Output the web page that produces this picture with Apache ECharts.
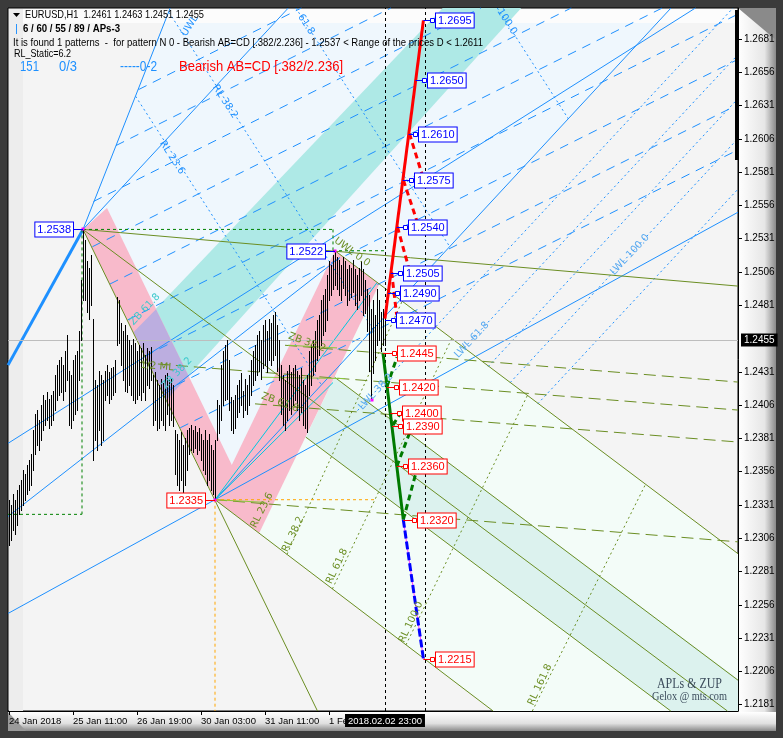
<!DOCTYPE html>
<html><head><meta charset="utf-8">
<script src="https://cdn.jsdelivr.net/npm/echarts@6/dist/echarts.min.js"></script>
<style>html,body{margin:0;padding:0;background:#3b3b3b;}#c{width:783px;height:738px;}</style>
</head><body><div id="c"></div>
<script>
// ---------- DATA ----------
const barHigh = [
1.2335,1.2331,1.2339,1.2335,1.2342,1.2346,1.2350,1.2357,1.2354,1.2361,
1.2365,1.2369,1.2387,1.2399,1.2402,1.2395,1.2406,1.2414,1.2410,1.2416,
1.2411,1.2414,1.2417,1.2429,1.2436,1.2440,1.2442,1.2436,1.2447,1.2459,
1.2432,1.2429,1.2440,1.2444,1.2447,1.2462,1.2500,1.2538,1.2530,1.2514,
1.2509,1.2519,1.2471,1.2425,1.2421,1.2432,1.2429,1.2425,1.2432,1.2436,
1.2431,1.2434,1.2435,1.2440,1.2487,1.2485,1.2468,1.2462,1.2466,1.2459,
1.2455,1.2451,1.2456,1.2453,1.2447,1.2451,1.2449,1.2453,1.2444,1.2449,
1.2447,1.2450,1.2429,1.2431,1.2425,1.2421,1.2426,1.2423,1.2429,1.2430,
1.2425,1.2426,1.2421,1.2387,1.2384,1.2380,1.2386,1.2376,1.2381,1.2387,
1.2389,1.2391,1.2387,1.2390,1.2386,1.2389,1.2384,1.2380,1.2387,1.2380,
1.2384,1.2376,1.2372,1.2380,1.2410,1.2406,1.2436,1.2447,1.2451,1.2455,
1.2440,1.2412,1.2410,1.2414,1.2421,1.2425,1.2430,1.2417,1.2426,1.2421,
1.2429,1.2440,1.2447,1.2451,1.2459,1.2462,1.2455,1.2466,1.2470,1.2462,
1.2471,1.2468,1.2474,1.2476,1.2466,1.2455,1.2436,1.2429,1.2425,1.2432,
1.2436,1.2431,1.2434,1.2436,1.2432,1.2429,1.2434,1.2425,1.2421,1.2429,
1.2447,1.2451,1.2455,1.2462,1.2470,1.2474,1.2485,1.2489,1.2493,1.2504,
1.2514,1.2511,1.2519,1.2522,1.2517,1.2515,1.2511,1.2517,1.2514,1.2508,
1.2511,1.2509,1.2515,1.2508,1.2504,1.2509,1.2514,1.2508,1.2500,1.2493,
1.2489,1.2478,1.2485,1.2474,1.2493,1.2485,1.2476,1.2478,1.2471];
const barLow = [
1.2301,1.2305,1.2312,1.2309,1.2316,1.2324,1.2327,1.2331,1.2335,1.2339,
1.2342,1.2346,1.2357,1.2369,1.2376,1.2372,1.2380,1.2387,1.2391,1.2395,
1.2389,1.2391,1.2395,1.2402,1.2410,1.2414,1.2416,1.2410,1.2417,1.2425,
1.2391,1.2389,1.2395,1.2399,1.2402,1.2425,1.2455,1.2485,1.2485,1.2476,
1.2471,1.2481,1.2365,1.2380,1.2372,1.2387,1.2376,1.2380,1.2410,1.2414,
1.2408,1.2411,1.2414,1.2416,1.2451,1.2453,1.2436,1.2425,1.2417,1.2416,
1.2421,1.2414,1.2410,1.2408,1.2411,1.2414,1.2410,1.2416,1.2410,1.2421,
1.2419,1.2425,1.2391,1.2395,1.2387,1.2389,1.2395,1.2391,1.2387,1.2399,
1.2391,1.2395,1.2390,1.2354,1.2346,1.2342,1.2350,1.2339,1.2346,1.2357,
1.2369,1.2372,1.2371,1.2374,1.2369,1.2372,1.2365,1.2357,1.2354,1.2346,
1.2350,1.2342,1.2339,1.2335,1.2380,1.2385,1.2395,1.2406,1.2410,1.2411,
1.2402,1.2387,1.2385,1.2389,1.2397,1.2401,1.2406,1.2397,1.2402,1.2399,
1.2406,1.2414,1.2421,1.2425,1.2429,1.2432,1.2426,1.2434,1.2436,1.2431,
1.2440,1.2436,1.2440,1.2444,1.2432,1.2425,1.2399,1.2391,1.2387,1.2395,
1.2402,1.2399,1.2406,1.2410,1.2402,1.2395,1.2401,1.2391,1.2389,1.2386,
1.2414,1.2421,1.2429,1.2432,1.2440,1.2444,1.2451,1.2459,1.2462,1.2470,
1.2485,1.2489,1.2493,1.2496,1.2493,1.2489,1.2485,1.2494,1.2489,1.2481,
1.2485,1.2487,1.2491,1.2481,1.2478,1.2485,1.2489,1.2474,1.2475,1.2462,
1.2432,1.2410,1.2430,1.2440,1.2451,1.2455,1.2447,1.2451,1.2451];

const xTickIdx = [0, 32, 64, 96, 128, 160];
const xTickText = ['24 Jan 2018', '25 Jan 11:00', '26 Jan 19:00', '30 Jan 03:00', '31 Jan 11:00', '1 Feb 19:00'];
const yTicks = [1.2181,1.2206,1.2231,1.2256,1.2281,1.2306,1.2331,1.2356,1.2381,1.2406,1.2431,1.2481,1.2506,1.2531,1.2556,1.2581,1.2606,1.2631,1.2656,1.2681];
const lastPrice = 1.2455;
const lastBarIdx = 188, futureLineIdx = 208;
const lastBarTime = '2018.02.02 23:00';

// fills (bar index, price)
const polyLightBlue = [[37,1.2538],[77.5,1.2693],[323.85,1.2693],[103,1.2335]];
const polyMint = [[185.15,1.2497],[125.1,1.2310],[445.5,1.1944],[445.5,1.2203]];
const polyTeal = [[162.8,1.2427],[148.4,1.2382],[445.5,1.2047],[445.5,1.2109]];
const polyCyan = [[62.35,1.2461],[230,1.2725],[268.6,1.2725],[78.85,1.2410]];
const polyPurple = [[62.35,1.2461],[73.5,1.2478],[89.8,1.2428],[78.85,1.2410]];
const polyPinkAB = [[37,1.2538],[49,1.2554],[115,1.2350],[103,1.2335]];
const polyPinkBC = [[103,1.2335],[163,1.2522],[185.15,1.2497],[125.1,1.2310]];

// lines [idx1, price1, idx2, price2]
const linesBlueThick = [[-14.5,1.2398,37,1.2538]];
const linesBlue = [[37,1.2538,85.5,1.2723],[37,1.2538,155.5,1.2730],[103,1.2335,355.5,1.2744],
  [-14.5,1.2238,375.5,1.2560],[-14.5,1.2364,355.5,1.2716],[-14.5,1.2306,165.5,1.2517]];
const linesBlueDashed = [[85.6,1.2389,375.5,1.2606],[76.85,1.2416,375.5,1.2640],[68.05,1.2443,375.5,1.2674],
  [59.25,1.2470,375.5,1.2708],[50.5,1.2497,375.5,1.2741],[41.7,1.2525,375.5,1.2775],
  [42.25,1.2559,375.5,1.2809],[53.5,1.2601,375.5,1.2843],[64.75,1.2643,375.5,1.2877]];
const linesBlueDotted = [[63.3,1.2638,156.3,1.2421],[80,1.2701,182,1.2463],[104.9,1.2794,220.4,1.2525],
  [225.5,1.2748,279.7,1.2621],[174.3,1.2402,375.5,1.2726],[227.55,1.2449,375.5,1.2687],
  [239.6,1.2435,375.5,1.2654],[250.6,1.2423,375.5,1.2624],[264.35,1.2407,375.5,1.2586]];
const linesCyan = [[103,1.2335,184,1.2498],[103,1.2335,162,1.2423]];
const linesOlive = [[37,1.2538,375.5,1.2494],[37,1.2538,160.5,1.2157],[37,1.2538,375.5,1.2158],
  [163,1.2522,375.5,1.2282],[103,1.2335,375.5,1.2024],[162.8,1.2427,375.5,1.2187],[148.4,1.2382,375.5,1.2126]];
const linesOliveDashed = [[138,1.2451,375.5,1.2422],[65.5,1.2438,375.5,1.2401],[123,1.2407,375.5,1.2377],[103,1.2335,375.5,1.2302]];
const linesOliveDotted = [[139,1.2294,196.55,1.2484],[161.7,1.2268,221.35,1.2456],[198.5,1.2226,259.1,1.2413],[256.25,1.2160,318.4,1.2347]];
const linesYellowGreen = [[103,1.2335,128,1.2333],[139.5,1.2451,164,1.2449],[126.5,1.2427,168,1.2426]];
const linesGreenBox = [[37,1.2538,162,1.2538],[162,1.2538,162,1.2522],[162,1.2522,188,1.2522],[36.5,1.2538,36.5,1.2324],[-0.5,1.2324,36.5,1.2324]];
const linesOrange = [[103,1.2335,103,1.2150],[103,1.2335,184,1.2335]];
const projRedSolid = [[188,1.2471,207.2,1.2695]];
const projRedDashed = [[200.2,1.2610,206.4,1.2580],[197.2,1.2575,203.8,1.2545],[194.2,1.2540,199.7,1.2510],[191.3,1.2506,193.8,1.2474]];
const projGreenSolid = [[187,1.2445,197.15,1.2320]];
const projGreenDashed = [[197.15,1.2320,204.7,1.2362],[193.9,1.2360,200.5,1.2386],[192,1.2391,196.5,1.2402],[189,1.2420,194,1.2442]];
const projBlue = [[197.15,1.2320,207.25,1.2215]];

// price tags [line idx, box idx, price]
const tagsBlue = [[207.2,213,1.2695],[203.3,209,1.2650],[199.8,204.5,1.2610],[196.85,202.5,1.2575],[193.85,199.5,1.2540],[190.85,197,1.2505],[189.55,195.5,1.2490],[188,193.5,1.2470]];
const tagsRed = [[187,194,1.2445],[189,195,1.2420],[190.7,196.5,1.2400],[191.5,197,1.2390],[193.9,199.5,1.2360],[197.15,204,1.2320],[207.25,213,1.2215]];
const tagsLeftBlue = [[37,32,1.2538],[163,158,1.2522]];
const tagsLeftRed = [[103,98,1.2335]];
const pivots = [[37,1.2538],[103,1.2335],[163,1.2522],[181.5,1.2410]];

// chart text labels
const chartTexts = ['UWL 0.0','1/2 ML','RL 38.2','RL 61.8','RL 100.0','RL 161.8','RL 23.6','RL 38.2','61.8','100.0','LWL 38.2','LWL 61.8','LWL 100.0','ZB 61.8','ZB 38.2','ZB 38.2','ZB 61.8','RL 23.6','UWL'];
const chartTextPos = [[171.5,1.2521],[74,1.2435],[142,1.2309],[164,1.2285],[201,1.2243],[265.5,1.2196],[81.5,1.2592],[108,1.2634],[148.5,1.2692],[249,1.2694],[183.5,1.2416],[231.5,1.2455],[310.5,1.2519],[68,1.2478],[84,1.2430],[149,1.2453],[135.5,1.2408],[126.5,1.2327],[90.5,1.2691]];

// ---------- STYLE ----------
const OLIVE = '#6b8e23', DBLUE = '#1e90ff';
const textRot = [-0.64,-0.08,1.13,1.13,1.13,1.13,-1.0,-1.0,-1.0,-1.0,0.82,0.82,0.82,0.82,0.82,-0.35,-0.35,1.1,1.0];
const textCol = [OLIVE,OLIVE,OLIVE,OLIVE,OLIVE,OLIVE,DBLUE,DBLUE,DBLUE,DBLUE,'#5aaaf0','#5aaaf0','#5aaaf0','#3cc8cc','#3cc8cc',OLIVE,OLIVE,OLIVE,DBLUE];

function clipSeg(a, b, r) {
  let t0 = 0, t1 = 1; const dx = b[0]-a[0], dy = b[1]-a[1];
  const p = [-dx, dx, -dy, dy], q = [a[0]-r.x, r.x+r.width-a[0], a[1]-r.y, r.y+r.height-a[1]];
  for (let i = 0; i < 4; i++) {
    if (p[i] === 0) { if (q[i] < 0) return null; }
    else { const t = q[i]/p[i];
      if (p[i] < 0) { if (t > t1) return null; if (t > t0) t0 = t; }
      else { if (t < t0) return null; if (t < t1) t1 = t; } }
  }
  return [[a[0]+t0*dx, a[1]+t0*dy], [a[0]+t1*dx, a[1]+t1*dy]];
}
function clipPoly(pts, r) {
  const x0=r.x, x1=r.x+r.width, y0=r.y, y1=r.y+r.height;
  const planes = [
    [p=>p[0]>=x0, (a,b)=>[x0, a[1]+(b[1]-a[1])*(x0-a[0])/(b[0]-a[0])]],
    [p=>p[0]<=x1, (a,b)=>[x1, a[1]+(b[1]-a[1])*(x1-a[0])/(b[0]-a[0])]],
    [p=>p[1]>=y0, (a,b)=>[a[0]+(b[0]-a[0])*(y0-a[1])/(b[1]-a[1]), y0]],
    [p=>p[1]<=y1, (a,b)=>[a[0]+(b[0]-a[0])*(y1-a[1])/(b[1]-a[1]), y1]]];
  let out = pts;
  for (const [inside, inter] of planes) {
    const inp = out; out = [];
    for (let i = 0; i < inp.length; i++) {
      const cur = inp[i], prev = inp[(i+inp.length-1)%inp.length];
      const ci = inside(cur), pi = inside(prev);
      if (ci) { if (!pi) out.push(inter(prev, cur)); out.push(cur); }
      else if (pi) out.push(inter(prev, cur));
    }
    if (!out.length) break;
  }
  return out;
}
function segs(arr, style, z) {
  return { type:'custom', z, silent:true, animation:false, data: arr, encode:{x:[0,2], y:[1,3]},
    renderItem(params, api) {
      const a = api.coord([api.value(0), api.value(1)]);
      const b = api.coord([api.value(2), api.value(3)]);
      const c = clipSeg(a, b, params.coordSys);
      if (!c) return null;
      return { type:'line', shape:{x1:c[0][0], y1:c[0][1], x2:c[1][0], y2:c[1][1]}, style:Object.assign({fill:null}, style) };
    } };
}
function poly(pts, color, z) {
  return { type:'custom', z, silent:true, animation:false, data:[pts[0]],
    renderItem(params, api) {
      const px = clipPoly(pts.map(p => api.coord(p)), params.coordSys);
      if (px.length < 3) return null;
      return { type:'polygon', shape:{points:px}, style:{fill:color} };
    } };
}
function tags(arr, color, left) {
  return { type:'custom', z:8, silent:true, animation:false, data:arr,
    renderItem(params, api) {
      const price = api.value(2);
      const lp = api.coord([api.value(0), price]);
      const bp = api.coord([api.value(1), price]);
      const y = Math.round(lp[1]) + 0.5, bx = Math.round(bp[0]);
      const txt = price.toFixed(4);
      const tstyle = { text:txt, font:'11px "Liberation Sans"', fill:color, verticalAlign:'middle',
        backgroundColor:'#fff', borderColor:color, borderWidth:1, padding:[2,2,1,2], lineHeight:11 };
      if (left) {
        return { type:'group', children:[
          { type:'line', shape:{x1:bx, y1:y, x2:lp[0], y2:y}, style:{stroke:color, lineWidth:1} },
          { type:'text', x:bx, y:y, style:Object.assign({align:'right'}, tstyle) } ] };
      }
      return { type:'group', children:[
        { type:'line', shape:{x1:lp[0], y1:y, x2:bx-4, y2:y}, style:{stroke:color, lineWidth:1} },
        { type:'rect', shape:{x:bx-4.5, y:y-2, width:4, height:4}, style:{fill:'#fff', stroke:color, lineWidth:1} },
        { type:'text', x:bx+1, y:y, style:Object.assign({align:'left'}, tstyle) } ] };
    } };
}

const mctx = document.createElement('canvas').getContext('2d');
function fit(text, font, target) { mctx.font = font; return target / mctx.measureText(text).width; }
function hdr(x, y, text, font, color, target) {
  return { type:'text', x, y, z:60, scaleX: fit(text, font, target),
    style:{ text, font, fill:color, verticalAlign:'middle', align:'left' } };
}

const chart = echarts.init(document.getElementById('c'), null, {width:783, height:738});

const series = [
  poly(polyLightBlue, '#eff7fd', 1),
  poly(polyMint, '#f3fcf8', 1),
  poly(polyTeal, '#dcf2ee', 1),
  poly(polyCyan, '#aee9e6', 1),
  poly(polyPinkAB, '#f8bacb', 1),
  poly(polyPinkBC, '#f8bacb', 1),
  poly(polyPurple, '#bcaee0', 1),
  segs(linesBlueDashed, {stroke:DBLUE, lineWidth:1, lineDash:[9,7]}, 2),
  segs(linesBlueDotted, {stroke:DBLUE, lineWidth:1, lineDash:[2,3]}, 2),
  segs(linesBlue, {stroke:DBLUE, lineWidth:1}, 2),
  segs(linesBlueThick, {stroke:DBLUE, lineWidth:3}, 2),
  segs(linesCyan, {stroke:'#00c8e0', lineWidth:1}, 2),
  segs(linesOlive, {stroke:OLIVE, lineWidth:1}, 2),
  segs(linesOliveDashed, {stroke:OLIVE, lineWidth:1, lineDash:[12,6]}, 2),
  segs(linesOliveDotted, {stroke:OLIVE, lineWidth:1, lineDash:[2,3]}, 2),
  segs(linesYellowGreen, {stroke:'#8cc63f', lineWidth:1}, 2),
  segs(linesGreenBox, {stroke:'#008000', lineWidth:1, lineDash:[3,3]}, 2),
  segs(linesOrange, {stroke:'#ffa500', lineWidth:1, lineDash:[3,3]}, 2),
  { type:'line', z:3, silent:true, animation:false, data:[[lastBarIdx, lastPrice]], symbol:'none', lineStyle:{width:0},
    markLine:{ symbol:['none','none'], silent:true, animation:false, precision:6, data:[
      { xAxis:lastBarIdx, lineStyle:{color:'#000', type:[3,3], width:1},
        label:{show:true, position:'start', formatter:lastBarTime, color:'#fff', backgroundColor:'#000', padding:[2,3,1,3], fontSize:9.5, fontFamily:'Liberation Sans', distance:3} },
      { xAxis:futureLineIdx, lineStyle:{color:'#000', type:[3,3], width:1}, label:{show:false} },
      { yAxis:lastPrice, lineStyle:{color:'#bdbdbd', type:'solid', width:1},
        label:{show:true, position:'end', formatter:lastPrice.toFixed(4), color:'#fff', backgroundColor:'#000', padding:[2,3,1,3], fontSize:10, fontFamily:'Liberation Sans', distance:3} }
    ] } },
  { type:'custom', z:5, silent:true, animation:false, data: barLow.map((lo, i) => [i, lo, barHigh[i]]), encode:{x:0, y:[1,2]},
    renderItem(params, api) {
      const a = api.coord([api.value(0), api.value(2)]);
      const b = api.coord([api.value(0), api.value(1)]);
      const x = Math.floor(a[0]) + 0.5;
      return { type:'line', shape:{x1:x, y1:Math.round(a[1]), x2:x, y2:Math.round(b[1])+1}, style:{stroke:'#000', lineWidth:1} };
    } },
  segs(projRedSolid, {stroke:'#ff0000', lineWidth:3}, 6),
  segs(projRedDashed, {stroke:'#ff0000', lineWidth:3, lineDash:[6,4]}, 6),
  segs(projGreenSolid, {stroke:'#007a00', lineWidth:3}, 6),
  segs(projGreenDashed, {stroke:'#007a00', lineWidth:3, lineDash:[6,4]}, 6),
  segs(projBlue, {stroke:'#ff40ff', lineWidth:1}, 6),
  segs(projBlue, {stroke:'#0000ff', lineWidth:3, lineDash:[8,3]}, 6),
  { type:'custom', z:6, silent:true, animation:false, data:pivots,
    renderItem(params, api) {
      const p = api.coord([api.value(0), api.value(1)]);
      return { type:'rect', shape:{x:Math.round(p[0])-1.5, y:Math.round(p[1])-1.5, width:3, height:3}, style:{fill:'#ff00ff'} };
    } },
  { type:'custom', z:7, silent:true, animation:false, data:chartTextPos,
    renderItem(params, api) {
      const i = params.dataIndex;
      const p = api.coord([api.value(0), api.value(1)]);
      return { type:'text', x:p[0], y:p[1], rotation:textRot[i],
        style:{ text:chartTexts[i], font:'10px "DejaVu Sans"', fill:textCol[i], align:'center', verticalAlign:'middle' } };
    } },
  tags(tagsBlue, '#0000ff', false),
  tags(tagsRed, '#ff0000', false),
  tags(tagsLeftBlue, '#0000ff', true),
  tags(tagsLeftRed, '#ff0000', true)
];

const H = '10.5px "Liberation Sans"';
chart.setOption({
  animation:false,
  backgroundColor:'#3b3b3b',
  grid:{ left:8, right:45, top:8, bottom:27, show:true, backgroundColor:'#f4f4f4', borderColor:'#000', borderWidth:1 },
  xAxis:{ type:'value', min:-0.5, max:364.5,
    axisLine:{show:true, onZero:false, lineStyle:{color:'#000'}},
    axisTick:{show:true, customValues:xTickIdx, length:4, lineStyle:{color:'#000'}},
    axisLabel:{show:true, customValues:xTickIdx, align:'left', margin:5, color:'#000', fontSize:9.5, fontFamily:'Liberation Sans',
      formatter: v => { const k = xTickIdx.indexOf(Math.round(v)); return k >= 0 ? xTickText[k] : ''; } },
    splitLine:{show:false} },
  yAxis:{ type:'value', position:'right', min:1.21763, max:1.27043,
    axisLine:{show:true, onZero:false, lineStyle:{color:'#000'}},
    axisTick:{show:true, customValues:yTicks, length:4, lineStyle:{color:'#000'}},
    axisLabel:{show:true, customValues:yTicks, margin:6, color:'#000', fontSize:10, fontFamily:'Liberation Sans', formatter: v => v.toFixed(4)},
    splitLine:{show:false} },
  graphic:[
    { type:'rect', z:-10, shape:{x:738, y:8, width:38, height:704},
      style:{ fill:new echarts.graphic.LinearGradient(0,0,1,0,[{offset:0,color:'#ffffff'},{offset:0.7,color:'#e6e6e6'},{offset:1,color:'#8a8a8a'}]) } },
    { type:'rect', z:-10, shape:{x:8, y:712, width:768, height:19},
      style:{ fill:new echarts.graphic.LinearGradient(0,0,0,1,[{offset:0,color:'#ffffff'},{offset:0.6,color:'#e0e0e0'},{offset:1,color:'#8a8a8a'}]) } },
    { type:'polygon', z:-9, shape:{points:[[738,8],[776,8],[776,40]]}, style:{fill:'#8a8a8a'} },
    { type:'polygon', z:-9, shape:{points:[[8,712],[8,731],[26,731]]}, style:{fill:'#9a9a9a'} },
    { type:'rect', z:0.5, shape:{x:23, y:9, width:714, height:14}, style:{fill:'#fcfcfc'} },
    { type:'rect', z:0.5, shape:{x:9, y:9, width:14, height:702}, style:{fill:'#ededed'} },
    { type:'rect', z:40, shape:{x:735, y:10, width:4, height:150}, style:{fill:'#000'} },
    { type:'polygon', z:60, shape:{points:[[13,13],[20,13],[16.5,17]]}, style:{fill:'#000'} },
    hdr(25, 15, 'EURUSD,H1  1.2461 1.2463 1.2451 1.2455', H, '#000', 179),
    hdr(15, 29, '|', H, DBLUE, 3),
    hdr(23, 29, '6 / 60 / 55 / 89 / APs-3', 'bold ' + H, '#000', 97),
    hdr(13, 43, 'It is found 1 patterns  -  for pattern N 0 - Bearish AB=CD [.382/2.236] - 1.2537 < Range of the prices D < 1.2611', H, '#000', 470),
    hdr(14, 54, 'RL_Static=6.2', H, '#000', 57),
    hdr(20, 67, '151', '15px "Liberation Sans"', DBLUE, 19),
    hdr(59, 67, '0/3', '15px "Liberation Sans"', DBLUE, 18),
    hdr(120, 67, '-----0-2', '15px "Liberation Sans"', DBLUE, 37),
    hdr(179, 67, 'Bearish AB=CD [.382/2.236]', '15px "Liberation Sans"', '#ff0000', 164),
    hdr(657, 684, 'APLs & ZUP', '15px "Liberation Serif"', '#3d4d5d', 65),
    hdr(652, 697, 'Gelox @ mts.com', '12px "Liberation Serif"', '#3d4d5d', 75)
  ],
  series
});
</script></body></html>
